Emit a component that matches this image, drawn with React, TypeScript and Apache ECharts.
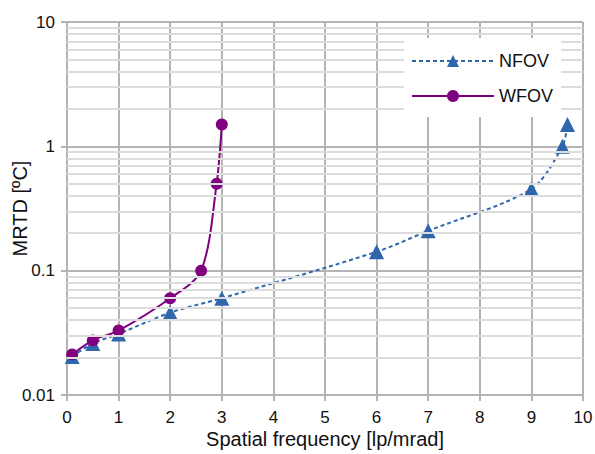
import React, { useEffect, useRef } from "react";
import * as echarts from "echarts";

const nfovX = [0.1, 0.5, 1, 2, 3, 6, 7, 9, 9.6, 9.7];
const nfovY = [0.0204, 0.026, 0.031, 0.046, 0.06, 0.142, 0.209, 0.454, 1.0, 1.5];
const wfovX = [0.1, 0.5, 1, 2, 2.6, 2.9, 3];
const wfovY = [0.0212, 0.0275, 0.033, 0.06, 0.1, 0.5, 1.5];
const minorLevels = [
  0.02, 0.03, 0.04, 0.05, 0.06, 0.07, 0.08, 0.09,
  0.2, 0.3, 0.4, 0.5, 0.6, 0.7, 0.8, 0.9,
  2, 3, 4, 5, 6, 7, 8, 9,
];

export default function App() {
  const ref = useRef<HTMLDivElement>(null);
  useEffect(() => {
    const chart = echarts.init(ref.current!, null, { renderer: "svg" });
    const font = "Liberation Sans, Arial, sans-serif";
    chart.setOption({
      animation: false,
      backgroundColor: "#fff",
      textStyle: { fontFamily: font },
      grid: { left: 67, right: 12, top: 22, bottom: 59, containLabel: false, outerBoundsMode: "none" },
      legend: {
        left: 404,
        top: 38,
        z: 20,
        orient: "vertical",
        backgroundColor: "#ffffff",
        padding: [14, 8, 12, 7],
        itemGap: 17,
        itemWidth: 82,
        itemHeight: 15,
        textStyle: { fontSize: 18, color: "#111", fontFamily: font },
        data: ["NFOV", "WFOV"],
      },
      xAxis: {
        type: "value",
        min: 0,
        max: 10,
        interval: 1,
        name: "Spatial frequency [lp/mrad]",
        nameLocation: "middle",
        nameGap: 34,
        nameMoveOverlap: false,
        nameTextStyle: { fontSize: 20, color: "#111", fontFamily: font },
        axisLine: { show: true, lineStyle: { color: "#b4b4b4", width: 2 } },
        axisTick: { show: true, length: 6, lineStyle: { color: "#b4b4b4", width: 2 } },
        axisLabel: { fontSize: 17, color: "#111", margin: 14, fontFamily: font },
        splitLine: { show: true, lineStyle: { color: "#b4b4b4", width: 2 } },
      },
      yAxis: {
        type: "log",
        logBase: 10,
        min: 0.01,
        max: 10,
        name: "MRTD [ºC]",
        nameLocation: "middle",
        nameGap: 37,
        nameMoveOverlap: false,
        nameTextStyle: { fontSize: 20, color: "#111", fontFamily: font },
        axisLine: { show: true, lineStyle: { color: "#b4b4b4", width: 2 } },
        axisTick: { show: true, length: 6, lineStyle: { color: "#b4b4b4", width: 2 } },
        axisLabel: {
          fontSize: 17,
          color: "#111",
          margin: 12,
          fontFamily: font,
          formatter: (v: number) => (v >= 1 ? String(Math.round(v)) : String(parseFloat(v.toPrecision(1)))),
        },
        splitLine: { show: true, lineStyle: { color: "#b4b4b4", width: 2 } },
      },
      series: [
        {
          name: "minor",
          type: "line",
          data: [],
          silent: true,
          z: 1,
          markLine: {
            silent: true,
            symbol: "none",
            label: { show: false },
            lineStyle: { color: "#dcdcdc", width: 2, type: "solid" },
            data: minorLevels.map((v) => ({ yAxis: v })),
          },
        },
        {
          name: "NFOV",
          type: "line",
          z: 3,
          data: nfovX.map((x, i) => [x, nfovY[i]]),
          smooth: 0.3,
          symbol: "triangle",
          symbolSize: 15,
          itemStyle: { color: "#2f67ad" },
          lineStyle: { color: "#2f67ad", width: 2, type: [4, 3] },
        },
        {
          name: "WFOV",
          type: "line",
          z: 4,
          data: wfovX.map((x, i) => [x, wfovY[i]]),
          smooth: 0.3,
          symbol: "circle",
          symbolSize: 12,
          itemStyle: { color: "#800080" },
          lineStyle: { color: "#800080", width: 2 },
        },
      ],
    });
    return () => chart.dispose();
  }, []);
  return (
    <div
      ref={ref}
      style={{ position: "absolute", left: 0, top: 0, width: 595, height: 454 }}
    />
  );
}
